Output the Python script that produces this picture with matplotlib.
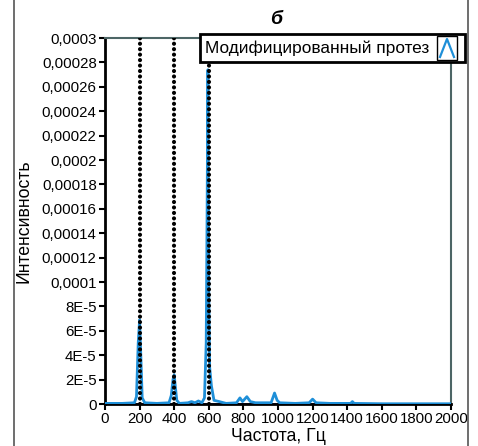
import matplotlib
matplotlib.use('Agg')
import matplotlib.pyplot as plt
from matplotlib.lines import Line2D
from matplotlib.patches import Rectangle

plt.rcParams['font.family'] = ['Liberation Sans', 'DejaVu Sans']

# spectrum, Hz / intensity
freq = [0, 100, 170, 182, 192, 200, 207, 215, 230, 300, 370, 383, 393, 400, 406, 415, 430,
        480, 500, 520, 540, 560, 575, 585, 590, 595, 600, 605, 615, 630, 660, 700,
        760, 780, 795, 820, 840, 870, 960, 980, 995, 1010, 1100, 1180, 1200, 1220,
        1300, 1420, 1430, 1440, 1600, 2000]
inten_e5 = [0.05, 0.05, 0.1, 0.6, 5.0, 6.9, 4.0, 0.5, 0.1, 0.05, 0.1, 0.7, 2.0, 2.4, 1.5, 0.3, 0.05,
            0.1, 0.2, 0.1, 0.25, 0.1, 0.5, 5.0, 15.3, 27.4, 9.3, 3.0, 1.5, 0.3, 0.2, 0.05,
            0.1, 0.5, 0.2, 0.6, 0.2, 0.1, 0.1, 0.9, 0.3, 0.1, 0.05, 0.1, 0.4, 0.1,
            0.05, 0.05, 0.2, 0.05, 0.02, 0.02]
intensity = [v * 1e-5 for v in inten_e5]

harmonics = [200, 400, 600]

x_ticks = [0, 200, 400, 600, 800, 1000, 1200, 1400, 1600, 1800, 2000]
y_ticks = [0, 2e-5, 4e-5, 6e-5, 8e-5, 1e-4, 1.2e-4, 1.4e-4, 1.6e-4, 1.8e-4, 2e-4,
           2.2e-4, 2.4e-4, 2.6e-4, 2.8e-4, 3e-4]
y_labels = ['0', '2E-5', '4E-5', '6E-5', '8E-5', '0,0001', '0,00012', '0,00014', '0,00016',
            '0,00018', '0,0002', '0,00022', '0,00024', '0,00026', '0,00028', '0,0003']

fig = plt.figure(figsize=(4.78, 4.46), dpi=100)
ax = fig.add_axes([105 / 478, 42 / 446, 346 / 478, 366 / 446])

ax.plot([0, 2000], [0, 0], color='#1a1a8c', lw=2, zorder=2)
ax.plot(freq, intensity, color='#1e8fd8', lw=2, zorder=3)
for h in harmonics:
    ax.plot([h, h], [0, 3e-4], color='black', lw=3.0, linestyle=(0, (0.01, 1.3)),
            dash_capstyle='round', zorder=4)

ax.set_xlim(0, 2000)
ax.set_ylim(0, 3e-4)
ax.set_xticks(x_ticks)
ax.set_yticks(y_ticks)
ax.set_yticklabels(y_labels)
ax.tick_params(direction='out', length=4, width=1.5, labelsize=10.8, pad=2, color='black')

for s in ['left', 'bottom']:
    ax.spines[s].set_linewidth(2)
    ax.spines[s].set_color('black')
for s in ['top', 'right']:
    ax.spines[s].set_linewidth(1.5)
    ax.spines[s].set_color('#4d6666')

ax.set_xlabel('Частота, Гц', fontsize=12.7, labelpad=1)
ax.set_ylabel('Интенсивность', fontsize=12.7, labelpad=7)
fig.text(276 / 478, 1 - 20 / 446, 'б', fontsize=14, fontweight='bold', fontstyle='italic',
         ha='center', va='center')

# legend box
fig.add_artist(Rectangle((200 / 478, 1 - 62 / 446), 265 / 478, 28 / 446,
                         transform=fig.transFigure, facecolor='white',
                         edgecolor='black', lw=2, zorder=10))
fig.text(205 / 478, 1 - 48 / 446, 'Модифицированный протез', fontsize=12.4,
         ha='left', va='center', zorder=11)
fig.add_artist(Rectangle((437 / 478, 1 - 60 / 446), 20 / 478, 24 / 446,
                         transform=fig.transFigure, facecolor='white',
                         edgecolor='black', lw=1, zorder=11))
fig.add_artist(Line2D([440 / 478, 447 / 478, 454 / 478],
                      [1 - 57 / 446, 1 - 39 / 446, 1 - 57 / 446],
                      transform=fig.transFigure, color='#1e8fd8', lw=1.6, zorder=12))

# frame lines of the scanned page
for xp in [14, 468]:
    fig.add_artist(Line2D([xp / 478, xp / 478], [0, 1], transform=fig.transFigure,
                          color='#555555', lw=1.2))

fig.savefig('out.png', dpi=100)
